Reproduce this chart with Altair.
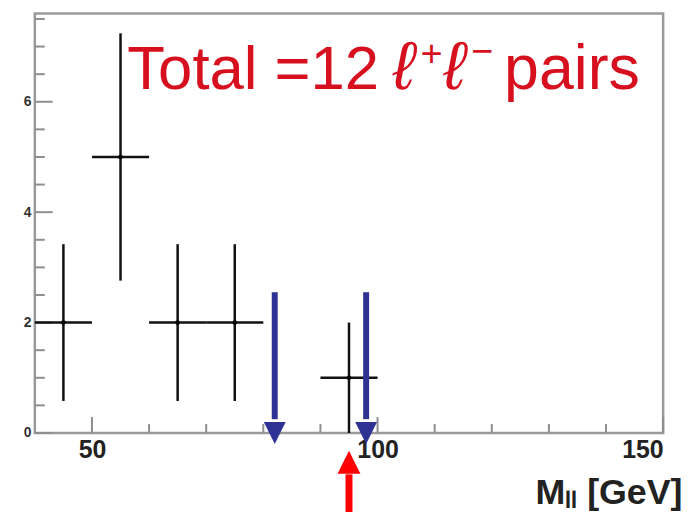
import altair as alt
import pandas as pd

# ---- data ----
bin_center = [45, 55, 65, 75, 95]
bin_lo = [40, 50, 60, 70, 90]
bin_hi = [50, 60, 70, 80, 100]
counts = [2, 5, 2, 2, 1]
err_lo = [0.58, 2.76, 0.58, 0.58, 0.0]
err_hi = [3.42, 7.24, 3.42, 3.42, 2.0]

blue_arrow_x = [82, 98]
blue_arrow_top = [2.55, 2.55]
blue_arrow_shaft_end = [0.25, 0.25]
blue_arrow_head = [0.0, 0.0]

red_arrow_x = [95]
red_arrow_head = [-0.53]
red_arrow_shaft_top = [-0.75]
red_arrow_shaft_bottom = [-1.6]

x_major = [50, 100, 150]
x_minor = [60, 70, 80, 90, 110, 120, 130, 140]
y_major = [0, 2, 4, 6]
y_minor = [0.5, 1, 1.5, 2.5, 3, 3.5, 4.5, 5, 5.5, 6.5, 7, 7.5]

ann_text = ["Total =12", "pairs"]
ann_lepton = "ℓ"
ann_signs = ["+", "−"]
x_title = "Mₗₗ [GeV]"

W, H = 632, 422
FONT = "Liberation Sans"
GRAY = "#8e8e8e"
REDTXT = "#d7101f"

df = pd.DataFrame({"x": bin_center, "xlo": bin_lo, "xhi": bin_hi,
                   "y": counts, "ylo": err_lo, "yhi": err_hi})
blue = pd.DataFrame({"x": blue_arrow_x, "top": blue_arrow_top,
                     "end": blue_arrow_shaft_end, "head": blue_arrow_head})
red = pd.DataFrame({"x": red_arrow_x, "head": red_arrow_head,
                    "top": red_arrow_shaft_top, "bottom": red_arrow_shaft_bottom})
xmaj = pd.DataFrame({"x": x_major})
xmin = pd.DataFrame({"x": x_minor})
ymaj = pd.DataFrame({"y": y_major})
ymin = pd.DataFrame({"y": y_minor})

xs = alt.Scale(domain=[40, 150], nice=False, zero=False)
ys = alt.Scale(domain=[0, 7.6], nice=False, zero=False)

xaxis = alt.Axis(values=x_major, ticks=False, domain=False, grid=False,
                 labelFont=FONT, labelFontSize=25, labelFontWeight="bold",
                 labelColor="#222222", labelPadding=5, format="d",
                 title=x_title, titleFont=FONT, titleFontSize=36,
                 titleFontWeight="bold", titleColor="#222222",
                 titleAlign="right", titleBaseline="alphabetic",
                 titleX=651, titleY=71)
yaxis = alt.Axis(values=y_major, ticks=False, domain=False, grid=False,
                 labelFont=FONT, labelFontSize=14, labelFontWeight="bold",
                 labelColor="#333333", labelPadding=4, format="d", title=None)

base_x = alt.X("x:Q", scale=xs, axis=xaxis)

vbars = alt.Chart(df).mark_rule(color="#111111", strokeWidth=2.5).encode(
    x=base_x, y=alt.Y("ylo:Q", scale=ys, axis=yaxis), y2="yhi:Q")
hbars = alt.Chart(df).mark_rule(color="#111111", strokeWidth=2.5).encode(
    x=alt.X("xlo:Q", scale=xs), x2="xhi:Q", y=alt.Y("y:Q", scale=ys))
pts = alt.Chart(df).mark_point(filled=True, color="#000000", size=22, opacity=1).encode(
    x=alt.X("x:Q", scale=xs), y=alt.Y("y:Q", scale=ys))

ymaj_t = alt.Chart(ymaj).mark_rule(color=GRAY, strokeWidth=2).encode(
    y=alt.Y("y:Q", scale=ys), x=alt.value(0), x2=alt.value(18))
ymin_t = alt.Chart(ymin).mark_rule(color=GRAY, strokeWidth=2).encode(
    y=alt.Y("y:Q", scale=ys), x=alt.value(0), x2=alt.value(10))
xmaj_t = alt.Chart(xmaj).mark_rule(color=GRAY, strokeWidth=2).encode(
    x=alt.X("x:Q", scale=xs), y=alt.value(H), y2=alt.value(H - 16))
xmin_t = alt.Chart(xmin).mark_rule(color=GRAY, strokeWidth=2).encode(
    x=alt.X("x:Q", scale=xs), y=alt.value(H), y2=alt.value(H - 9))

BLUE = "#2f3293"
b_shaft = alt.Chart(blue).mark_rule(color=BLUE, strokeWidth=6).encode(
    x=alt.X("x:Q", scale=xs), y=alt.Y("top:Q", scale=ys), y2="end:Q")
b_head = alt.Chart(blue).mark_point(shape="M-1,-1L1,-1L0,1Z", filled=True,
                                    color=BLUE, size=484, opacity=1,
                                    strokeWidth=0).encode(
    x=alt.X("x:Q", scale=xs), y=alt.Y("head:Q", scale=ys))

RED = "#ff0000"
r_shaft = alt.Chart(red).mark_rule(color=RED, strokeWidth=7).encode(
    x=alt.X("x:Q", scale=xs), y=alt.Y("top:Q", scale=ys), y2="bottom:Q")
r_head = alt.Chart(red).mark_point(shape="M0,-1L1,1L-1,1Z", filled=True,
                                   color=RED, size=529, opacity=1,
                                   strokeWidth=0).encode(
    x=alt.X("x:Q", scale=xs), y=alt.Y("head:Q", scale=ys))

def label(txt, x, y, size, style="normal", baseline="alphabetic"):
    return alt.Chart(pd.DataFrame({"t": [txt]})).mark_text(
        font=FONT, fontSize=size, color=REDTXT, fontStyle=style,
        align="left", baseline=baseline).encode(
        text="t:N", x=alt.value(x), y=alt.value(y))

t1 = label(ann_text[0], 93, 76, 62)
l1 = label(ann_lepton, 360, 76, 68, "italic")
p1 = label(ann_signs[0], 388, 42, 38, baseline="middle")
l2 = label(ann_lepton, 411, 76, 68, "italic")
m1 = label(ann_signs[1], 439, 40, 38, baseline="middle")
t3 = label(ann_text[1], 472, 76, 63)

chart = alt.layer(
    ymaj_t, ymin_t, xmaj_t, xmin_t,
    vbars, hbars, pts, b_shaft, b_head, r_shaft, r_head,
    t1, l1, p1, l2, m1, t3
).properties(
    width=W, height=H,
    autosize=alt.AutoSizeParams(type="none"),
    padding={"left": 27, "top": 4, "right": 24, "bottom": 78},
    background="white",
).configure_view(stroke="#9a9a9a", strokeWidth=2.5)

chart.save("out.html", embed_options={"renderer": "svg", "actions": False})
